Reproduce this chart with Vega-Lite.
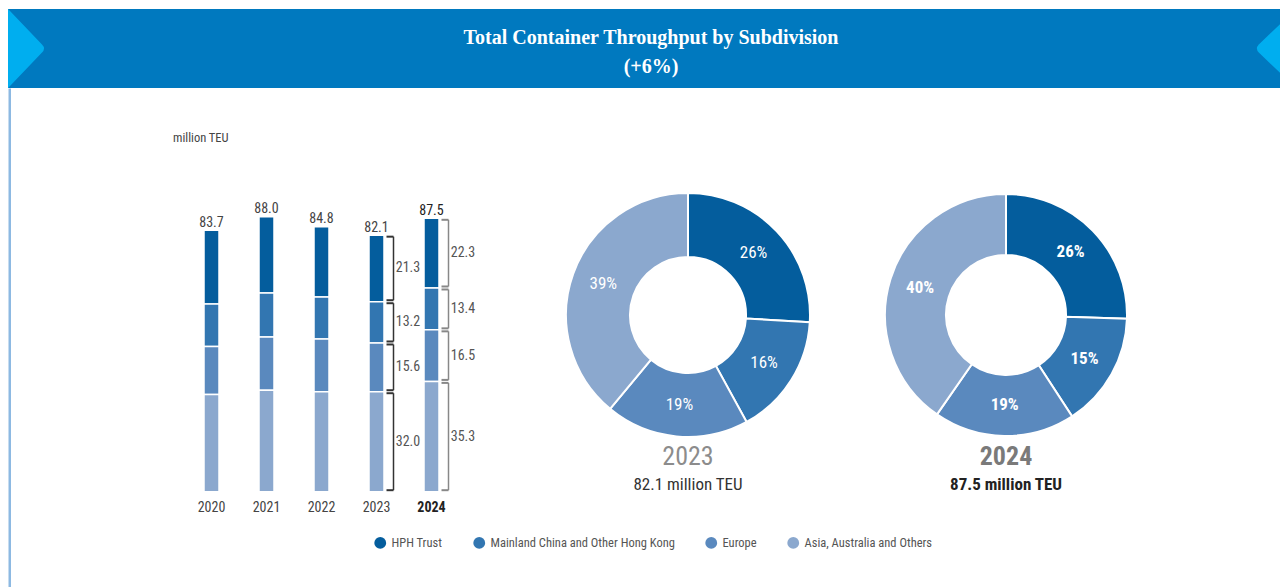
{
  "$schema": "https://vega.github.io/schema/vega-lite/v6.json",
  "background": "white",
  "padding": {"left": 8, "top": 9, "right": 0, "bottom": 0},
  "bounds": "flush",
  "spacing": 0,
  "datasets": {
    "teu": [
      {"year": "2020", "region": "HPH Trust", "rank": 1, "value": 23.6},
      {"year": "2020", "region": "Mainland China and Other Hong Kong", "rank": 2, "value": 13.6},
      {"year": "2020", "region": "Europe", "rank": 3, "value": 15.4},
      {"year": "2020", "region": "Asia, Australia and Others", "rank": 4, "value": 31.1},
      {"year": "2021", "region": "HPH Trust", "rank": 1, "value": 24.4},
      {"year": "2021", "region": "Mainland China and Other Hong Kong", "rank": 2, "value": 14.1},
      {"year": "2021", "region": "Europe", "rank": 3, "value": 17.0},
      {"year": "2021", "region": "Asia, Australia and Others", "rank": 4, "value": 32.5},
      {"year": "2022", "region": "HPH Trust", "rank": 1, "value": 22.5},
      {"year": "2022", "region": "Mainland China and Other Hong Kong", "rank": 2, "value": 13.4},
      {"year": "2022", "region": "Europe", "rank": 3, "value": 16.9},
      {"year": "2022", "region": "Asia, Australia and Others", "rank": 4, "value": 32.0},
      {"year": "2023", "region": "HPH Trust", "rank": 1, "value": 21.3, "share": 0.26},
      {"year": "2023", "region": "Mainland China and Other Hong Kong", "rank": 2, "value": 13.2, "share": 0.16},
      {"year": "2023", "region": "Europe", "rank": 3, "value": 15.6, "share": 0.19},
      {"year": "2023", "region": "Asia, Australia and Others", "rank": 4, "value": 32.0, "share": 0.39},
      {"year": "2024", "region": "HPH Trust", "rank": 1, "value": 22.3, "share": 0.26},
      {"year": "2024", "region": "Mainland China and Other Hong Kong", "rank": 2, "value": 13.4, "share": 0.15},
      {"year": "2024", "region": "Europe", "rank": 3, "value": 16.5, "share": 0.19},
      {"year": "2024", "region": "Asia, Australia and Others", "rank": 4, "value": 35.3, "share": 0.40}
    ],
    "captions": [
      {"year": "2023", "caption": "82.1 million TEU"},
      {"year": "2024", "caption": "87.5 million TEU"}
    ],
    "banner": [{"side": "left"}, {"side": "right"}]
  },
  "vconcat": [
    {
      "width": 1272,
      "height": 79,
      "view": {"fill": "#0079BF", "stroke": null},
      "layer": [
        {
          "data": {"name": "banner"},
          "mark": {"type": "point", "filled": true, "size": 6400, "clip": true, "opacity": 1, "color": "#00AEEF", "strokeWidth": 0},
          "encoding": {
            "x": {"field": "side", "type": "nominal", "title": null, "axis": null, "scale": {"type": "point", "domain": ["left", "right"], "padding": 0}},
            "shape": {"field": "side", "type": "nominal", "legend": null, "scale": {"domain": ["left", "right"], "range": ["M0,-0.99 L0.85,-0.1 Q0.95,0 0.85,0.1 L0,0.99 Z", "M0.4,-0.99 L-0.53,-0.1 Q-0.625,0 -0.53,0.1 L0.4,0.99 Z"]}}
          }
        },
        {
          "data": {"values": [{"t": 1}]},
          "mark": {"type": "text", "text": ["Total Container Throughput by Subdivision", "(+6%)"], "font": "Liberation Serif", "fontWeight": "bold", "fontSize": 20, "color": "white", "lineHeight": 29, "dx": 7, "dy": -11},
          "encoding": {}
        }
      ]
    },
    {
      "bounds": "flush",
      "spacing": 140,
      "hconcat": [
        {
          "width": 451,
          "height": 499,
          "data": {"name": "teu"},
          "layer": [
            {
              "transform": [{"stack": "value", "groupby": ["year"], "sort": [{"field": "rank", "order": "descending"}], "as": ["v0", "v1"]}],
              "mark": {"type": "bar", "size": 15, "stroke": "white", "strokeWidth": 1.5},
              "encoding": {
                "x": {
                  "field": "year", "type": "ordinal", "title": null,
                  "scale": {"type": "band", "range": [176, 451], "paddingInner": 0, "paddingOuter": 0},
                  "axis": {
                    "domain": false, "ticks": false, "labelAngle": 0, "labelFontSize": 14, "labelPadding": 9, "offset": -95.3,
                    "labelColor": {"condition": {"test": "datum.value === '2024'", "value": "#222222"}, "value": "#444444"},
                    "labelFontWeight": {"condition": {"test": "datum.value === '2024'", "value": "bold"}, "value": "normal"}
                  }
                },
                "y": {
                  "field": "v0", "type": "quantitative", "title": null,
                  "scale": {"domain": [-30.5, 129.2], "nice": false, "zero": false},
                  "axis": {"labels": false, "ticks": false, "grid": false, "domainColor": "#8DB9E2", "domainWidth": 2.5, "offset": -1.25}
                },
                "y2": {"field": "v1"},
                "color": {
                  "field": "region", "type": "nominal",
                  "scale": {"domain": ["HPH Trust", "Mainland China and Other Hong Kong", "Europe", "Asia, Australia and Others"], "range": ["#045D9D", "#3276B1", "#5A89BE", "#8BA8CE"]},
                  "legend": {"orient": "none", "legendX": 366, "legendY": 527.5, "direction": "horizontal", "title": null, "symbolType": "circle", "symbolSize": 140, "symbolStrokeWidth": 0, "symbolOpacity": 1, "labelFontSize": 12.5, "labelColor": "#555555", "columnPadding": 30, "labelOffset": 5, "labelLimit": 400}
                }
              }
            },
            {
              "transform": [{"aggregate": [{"op": "sum", "field": "value", "as": "total"}], "groupby": ["year"]}],
              "mark": {"type": "text", "dy": -7.5, "fontSize": 14},
              "encoding": {
                "x": {"field": "year", "type": "ordinal", "title": null},
                "y": {"field": "total", "type": "quantitative", "title": null},
                "text": {"field": "total", "type": "quantitative", "format": ".1f"},
                "fontWeight": {"condition": {"test": "datum.year === '2024'", "value": "bold"}, "value": "normal"},
                "color": {"condition": {"test": "datum.year === '2024'", "value": "#222222"}, "value": "#444444"}
              }
            },
            {
              "transform": [
                {"stack": "value", "groupby": ["year"], "sort": [{"field": "rank", "order": "descending"}], "as": ["v0", "v1"]},
                {"filter": {"field": "year", "oneOf": ["2023", "2024"]}}
              ],
              "mark": {"type": "rule", "xOffset": 17, "yOffset": -1.5, "y2Offset": 1.5, "strokeWidth": 1.5},
              "encoding": {
                "x": {"field": "year", "type": "ordinal", "title": null},
                "y": {"field": "v0", "type": "quantitative", "title": null},
                "y2": {"field": "v1"},
                "color": {"condition": {"test": "datum.year === '2023'", "value": "#333333"}, "value": "#888888"}
              }
            },
            {
              "transform": [
                {"stack": "value", "groupby": ["year"], "sort": [{"field": "rank", "order": "descending"}], "as": ["v0", "v1"]},
                {"filter": {"field": "year", "oneOf": ["2023", "2024"]}}
              ],
              "mark": {"type": "tick", "size": 7, "thickness": 2, "xOffset": 13.5, "yOffset": -1.5, "opacity": 1},
              "encoding": {
                "x": {"field": "year", "type": "ordinal", "title": null},
                "y": {"field": "v0", "type": "quantitative", "title": null},
                "color": {"condition": {"test": "datum.year === '2023'", "value": "#333333"}, "value": "#888888"}
              }
            },
            {
              "transform": [
                {"stack": "value", "groupby": ["year"], "sort": [{"field": "rank", "order": "descending"}], "as": ["v0", "v1"]},
                {"filter": {"field": "year", "oneOf": ["2023", "2024"]}}
              ],
              "mark": {"type": "tick", "size": 7, "thickness": 2, "xOffset": 13.5, "yOffset": 1.5, "opacity": 1},
              "encoding": {
                "x": {"field": "year", "type": "ordinal", "title": null},
                "y": {"field": "v1", "type": "quantitative", "title": null},
                "color": {"condition": {"test": "datum.year === '2023'", "value": "#333333"}, "value": "#888888"}
              }
            },
            {
              "transform": [
                {"stack": "value", "groupby": ["year"], "sort": [{"field": "rank", "order": "descending"}], "as": ["v0", "v1"]},
                {"filter": {"field": "year", "oneOf": ["2023", "2024"]}},
                {"fold": ["v0", "v1"], "as": ["k", "pos"]}
              ],
              "mark": {"type": "text", "dx": 31.5, "fontSize": 14, "color": "#555555"},
              "encoding": {
                "x": {"field": "year", "type": "ordinal", "title": null},
                "y": {"aggregate": "mean", "field": "pos", "type": "quantitative", "title": null},
                "detail": {"field": "region", "type": "nominal"},
                "text": {"aggregate": "mean", "field": "value", "type": "quantitative", "format": ".1f"}
              }
            },
            {
              "data": {"values": [{"label": "million TEU"}]},
              "mark": {"type": "text", "align": "left", "dx": -38.5, "fontSize": 12.5, "color": "#444444"},
              "encoding": {
                "x": {"datum": "2020", "type": "ordinal"},
                "y": {"datum": 113.2, "type": "quantitative"},
                "text": {"field": "label", "type": "nominal"}
              }
            }
          ]
        },
        {
          "width": 178,
          "height": 454,
          "layer": [
            {
              "data": {"name": "teu"},
              "transform": [{"filter": {"field": "year", "equal": "2023"}}],
              "mark": {"type": "arc", "outerRadius": 122, "innerRadius": 58, "stroke": "white", "strokeWidth": 2},
              "encoding": {
                "theta": {"field": "value", "type": "quantitative", "stack": true},
                "order": {"field": "rank", "type": "quantitative"},
                "color": {
                  "field": "region", "type": "nominal",
                  "scale": {"domain": ["HPH Trust", "Mainland China and Other Hong Kong", "Europe", "Asia, Australia and Others"], "range": ["#045D9D", "#3276B1", "#5A89BE", "#8BA8CE"]},
                  "legend": {"orient": "none", "legendX": 366, "legendY": 527.5, "direction": "horizontal", "title": null, "symbolType": "circle", "symbolSize": 140, "symbolStrokeWidth": 0, "symbolOpacity": 1, "labelFontSize": 12.5, "labelColor": "#555555", "columnPadding": 30, "labelOffset": 5, "labelLimit": 400}
                }
              }
            },
            {
              "data": {"name": "teu"},
              "transform": [{"filter": {"field": "year", "equal": "2023"}}],
              "mark": {"type": "text", "radius": 90, "fontSize": 17, "color": "white"},
              "encoding": {
                "theta": {"field": "value", "type": "quantitative", "stack": true},
                "order": {"field": "rank", "type": "quantitative"},
                "text": {"field": "share", "type": "quantitative", "format": ".0%"}
              }
            },
            {
              "data": {"name": "captions"},
              "transform": [{"filter": {"field": "year", "equal": "2023"}}],
              "mark": {"type": "text", "dy": 142, "fontSize": 26, "color": "#8C8C8C"},
              "encoding": {"text": {"field": "year", "type": "nominal"}}
            },
            {
              "data": {"name": "captions"},
              "transform": [{"filter": {"field": "year", "equal": "2023"}}],
              "mark": {"type": "text", "dy": 170, "fontSize": 17, "color": "#333333"},
              "encoding": {"text": {"field": "caption", "type": "nominal"}}
            }
          ]
        },
        {
          "width": 178,
          "height": 454,
          "layer": [
            {
              "data": {"name": "teu"},
              "transform": [{"filter": {"field": "year", "equal": "2024"}}],
              "mark": {"type": "arc", "outerRadius": 121, "innerRadius": 60, "stroke": "white", "strokeWidth": 2},
              "encoding": {
                "theta": {"field": "value", "type": "quantitative", "stack": true},
                "order": {"field": "rank", "type": "quantitative"},
                "color": {
                  "field": "region", "type": "nominal",
                  "scale": {"domain": ["HPH Trust", "Mainland China and Other Hong Kong", "Europe", "Asia, Australia and Others"], "range": ["#045D9D", "#3276B1", "#5A89BE", "#8BA8CE"]},
                  "legend": {"orient": "none", "legendX": 366, "legendY": 527.5, "direction": "horizontal", "title": null, "symbolType": "circle", "symbolSize": 140, "symbolStrokeWidth": 0, "symbolOpacity": 1, "labelFontSize": 12.5, "labelColor": "#555555", "columnPadding": 30, "labelOffset": 5, "labelLimit": 400}
                }
              }
            },
            {
              "data": {"name": "teu"},
              "transform": [{"filter": {"field": "year", "equal": "2024"}}],
              "mark": {"type": "text", "radius": 90, "fontSize": 17, "fontWeight": "bold", "color": "white"},
              "encoding": {
                "theta": {"field": "value", "type": "quantitative", "stack": true},
                "order": {"field": "rank", "type": "quantitative"},
                "text": {"field": "share", "type": "quantitative", "format": ".0%"}
              }
            },
            {
              "data": {"name": "captions"},
              "transform": [{"filter": {"field": "year", "equal": "2024"}}],
              "mark": {"type": "text", "dy": 142, "fontSize": 26, "fontWeight": "bold", "color": "#7A7A7A"},
              "encoding": {"text": {"field": "year", "type": "nominal"}}
            },
            {
              "data": {"name": "captions"},
              "transform": [{"filter": {"field": "year", "equal": "2024"}}],
              "mark": {"type": "text", "dy": 170, "fontSize": 17, "fontWeight": "bold", "color": "#222222"},
              "encoding": {"text": {"field": "caption", "type": "nominal"}}
            }
          ]
        }
      ]
    }
  ],
  "config": {
    "view": {"stroke": null},
    "font": "Liberation Sans Narrow, Roboto Condensed, Arial Narrow, sans-serif",
    "text": {"font": "Liberation Sans Narrow, Roboto Condensed, Arial Narrow, sans-serif"},
    "axis": {"labelFont": "Liberation Sans Narrow, Roboto Condensed, Arial Narrow, sans-serif"},
    "legend": {"labelFont": "Liberation Sans Narrow, Roboto Condensed, Arial Narrow, sans-serif"}
  }
}
